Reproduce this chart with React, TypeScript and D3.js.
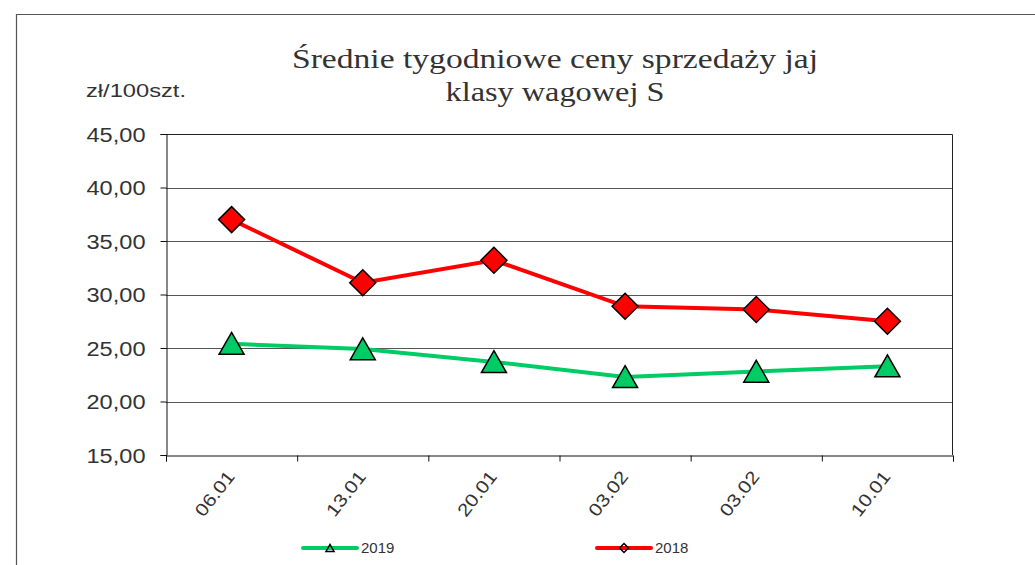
import React, { useEffect, useRef } from "react";
import * as d3 from "d3";

const categories = ["06.01", "13.01", "20.01", "03.02", "03.02", "10.01"];
const values2019 = [25.4, 24.9, 23.7, 22.3, 22.8, 23.3];
const values2018 = [37.0, 31.1, 33.2, 28.9, 28.6, 27.5];
const yTicks = [15, 20, 25, 30, 35, 40, 45];
const titleLines = ["Średnie tygodniowe ceny sprzedaży jaj", "klasy wagowej S"];

const green = "#00CC66";
const red = "#FF0000";

const App = () => {
  const svgRef = useRef<SVGSVGElement>(null);

  useEffect(() => {
    const width = 1035;
    const height = 565;
    const margin = { top: 134, right: 82, bottom: 110, left: 166 };

    const svg = d3.select(svgRef.current).attr("width", width).attr("height", height);
    svg.selectAll("*").remove();

    // outer frame
    svg
      .append("path")
      .attr("d", `M16.5,${height} V14.5 H${width}`)
      .attr("fill", "none")
      .attr("stroke", "#555")
      .attr("stroke-width", 1.2);

    const x = d3
      .scaleBand()
      .domain(categories.map((d, i) => String(i)))
      .range([margin.left, width - margin.right]);
    const y = d3
      .scaleLinear()
      .domain([15, 45])
      .range([height - margin.bottom, margin.top]);

    const cx = (i: number) => x(String(i))! + x.bandwidth() / 2;

    // grid
    svg
      .append("g")
      .selectAll("line")
      .data(yTicks.slice(1, -1))
      .join("line")
      .attr("x1", margin.left)
      .attr("x2", width - margin.right)
      .attr("y1", (d) => Math.round(y(d)) + 0.5)
      .attr("y2", (d) => Math.round(y(d)) + 0.5)
      .attr("stroke", "#555")
      .attr("stroke-width", 1);

    // plot border (top/right)
    svg
      .append("path")
      .attr(
        "d",
        `M${margin.left},${Math.round(y(45)) + 0.5} H${width - margin.right - 0.5} V${y(15)}`
      )
      .attr("fill", "none")
      .attr("stroke", "#222")
      .attr("stroke-width", 1);

    // y axis
    const yAxis = d3
      .axisLeft(y)
      .tickValues(yTicks)
      .tickSize(6)
      .tickFormat((d) => d3.format(".2f")(d as number).replace(".", ","));
    const gy = svg.append("g").attr("transform", `translate(${margin.left + 0.5},0)`).call(yAxis);
    gy.select(".domain").attr("stroke", "#111");
    gy.selectAll(".tick line").attr("stroke", "#111");
    gy.selectAll(".tick text")
      .attr("x", -21)
      .attr("dy", "0.36em")
      .attr("fill", "#333")
      .attr("font-family", "Liberation Sans, Arial, sans-serif")
      .attr("font-size", 20)
      .attr("textLength", 59)
      .attr("lengthAdjust", "spacingAndGlyphs");

    // x axis
    const xBottom = d3
      .scalePoint()
      .domain(d3.range(categories.length + 1).map(String))
      .range([margin.left, width - margin.right]);
    const gx = svg
      .append("g")
      .attr("transform", `translate(0,${height - margin.bottom + 0.5})`)
      .call(d3.axisBottom(xBottom).tickSize(6).tickFormat(() => ""));
    gx.select(".domain").attr("stroke", "#111");
    gx.selectAll(".tick line").attr("stroke", "#111");

    svg
      .append("g")
      .selectAll("text")
      .data(categories)
      .join("text")
      .attr("transform", (d, i) => `translate(${cx(i) + 4},${height - margin.bottom + 22}) rotate(-52)`)
      .attr("text-anchor", "end")
      .attr("fill", "#333")
      .attr("font-family", "Liberation Sans, Arial, sans-serif")
      .attr("font-size", 18)
      .attr("textLength", 52)
      .attr("lengthAdjust", "spacingAndGlyphs")
      .text((d) => d);

    // lines
    const line = d3
      .line<number>()
      .x((d, i) => cx(i))
      .y((d) => y(d));

    svg
      .append("path")
      .datum(values2019)
      .attr("fill", "none")
      .attr("stroke", green)
      .attr("stroke-width", 4)
      .attr("d", line);
    svg
      .append("path")
      .datum(values2018)
      .attr("fill", "none")
      .attr("stroke", red)
      .attr("stroke-width", 4)
      .attr("d", line);

    const tri = (s: number) => `M0,${-s * 0.9} L${s},${s * 0.85} L${-s},${s * 0.85} Z`;
    const dia = (s: number) => `M0,${-s} L${s},0 L0,${s} L${-s},0 Z`;

    svg
      .append("g")
      .selectAll("path")
      .data(values2019)
      .join("path")
      .attr("transform", (d, i) => `translate(${cx(i)},${y(d)})`)
      .attr("d", tri(12.5))
      .attr("fill", green)
      .attr("stroke", "#000")
      .attr("stroke-width", 1.5);
    svg
      .append("g")
      .selectAll("path")
      .data(values2018)
      .join("path")
      .attr("transform", (d, i) => `translate(${cx(i)},${y(d)})`)
      .attr("d", dia(13))
      .attr("fill", red)
      .attr("stroke", "#000")
      .attr("stroke-width", 1.5);

    // title
    svg
      .append("g")
      .selectAll("text")
      .data(titleLines)
      .join("text")
      .attr("x", 555)
      .attr("y", (d, i) => 68 + i * 33)
      .attr("text-anchor", "middle")
      .attr("fill", "#333")
      .attr("font-family", "Liberation Serif, serif")
      .attr("font-size", 28)
      .attr("textLength", (d, i) => (i === 0 ? 526 : 219))
      .attr("lengthAdjust", "spacingAndGlyphs")
      .text((d) => d);

    svg
      .append("text")
      .attr("x", 86)
      .attr("y", 97)
      .attr("fill", "#333")
      .attr("font-family", "Liberation Sans, Arial, sans-serif")
      .attr("font-size", 19)
      .attr("textLength", 100)
      .attr("lengthAdjust", "spacingAndGlyphs")
      .text("zł/100szt.");

    // legend
    const legend = [
      { name: "2019", color: green, shape: tri(4), x: 303 },
      { name: "2018", color: red, shape: dia(4.5), x: 597 },
    ];
    const lg = svg
      .append("g")
      .selectAll("g")
      .data(legend)
      .join("g")
      .attr("transform", (d) => `translate(${d.x},548)`);
    lg.append("line")
      .attr("x1", 0)
      .attr("x2", 54)
      .attr("stroke", (d) => d.color)
      .attr("stroke-width", 4)
      .attr("stroke-linecap", "round");
    lg.append("path")
      .attr("transform", "translate(27,0)")
      .attr("d", (d) => d.shape)
      .attr("fill", "none")
      .attr("stroke", "#000")
      .attr("stroke-width", 1.5);
    lg.append("text")
      .attr("x", 58)
      .attr("dy", "0.36em")
      .attr("fill", "#333")
      .attr("font-family", "Liberation Sans, Arial, sans-serif")
      .attr("font-size", 15)
      .text((d) => d.name);
  }, []);

  return <svg ref={svgRef} style={{ position: "absolute", left: 0, top: 0 }}></svg>;
};

export default App;
